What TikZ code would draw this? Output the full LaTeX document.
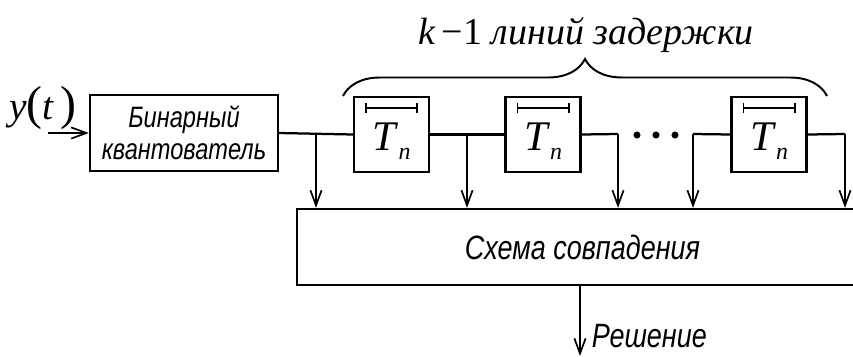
\documentclass[tikz,border=0pt]{standalone}
\usepackage{fontspec}
\setmainfont{Liberation Serif}
\newfontfamily\blockfont{Liberation Sans}
\usetikzlibrary{arrows.meta,positioning,calc,decorations.pathreplacing}
\newcommand{\narrowtext}[1]{\scalebox{0.8}[1]{#1}}

\begin{document}
\begin{tikzpicture}[
  x=0.025cm, y=-0.025cm,
  line width=1.6pt,
  block/.style={draw, line width=1.6pt, inner sep=0pt, align=center,
                font=\blockfont\itshape\fontsize{21}{23}\selectfont},
  delay/.style={draw, line width=1.6pt, minimum width=1.875cm, minimum height=1.875cm,
                inner sep=0pt},
  arrow/.style={-{Straight Barb[length=3.8mm, width=2.8mm, line width=1.2pt]}},
  dot/.style={circle, fill, inner sep=0pt, minimum size=5pt}
]
  \useasboundingbox (0,0) rectangle (853,356);

  % Nodes
  \node[block, minimum width=4.7cm, minimum height=1.9cm] (quant) at (184,133)
       {\narrowtext{Бинарный}\\\narrowtext{квантователь}};
  \node[delay] (T1) at (391.5,134.5) {};
  \node[delay] (T2) at (543,134.5) {};
  \node[delay] (T3) at (769,134.5) {};
  \node[block, minimum width=14.075cm, minimum height=1.9cm,
        font=\blockfont\itshape\fontsize{24}{26}\selectfont] (coinc) at (578.5,247)
       {\hspace*{0.2cm}\narrowtext{Схема совпадения}};

  % Labels
  \node (y) at (43,108) {\fontsize{28}{32}\selectfont\textit{y}{\fontsize{34}{36}\selectfont(}\textit{t}\,{\fontsize{34}{36}\selectfont)}};
  \node (title) at (586,35) {\fontsize{27}{30}\selectfont\textit{k}\,−1 \textit{линий задержки}};
  \foreach \t in {T1,T2,T3}{
    \node at ($(\t.center)+(0,7)$) {\fontsize{30}{34}\selectfont\textit{T}\raisebox{-0.45ex}{\fontsize{17}{20}\selectfont\textit{n}}};
    \draw[{Bar[width=2.4mm]}-{Bar[width=2.4mm]}, line width=1.3pt]
      ($(\t.center)+(-26.5,-26.5)$) -- ($(\t.center)+(26.5,-26.5)$);
  }
  \foreach \x in {637,656,675}{
    \node[dot] (d\x) at (\x,135) {};
  }

  % Branch points
  \coordinate (in) at (48,133);
  \coordinate (b1) at (316,134);
  \coordinate (b2) at (467,134);
  \coordinate (b3) at (618,134);
  \coordinate (b4) at (693,134);
  \coordinate (b5) at (845,134);
  \coordinate (out) at (580,356);

  % Connectors
  \draw[arrow] (in) -- (quant.west);
  \draw (quant.east) -- (T1.west);
  \draw (T1.east) -- (T2.west);
  \draw (T2.east) -- (b3);
  \draw (b4) -- (T3.west);
  \draw (T3.east) -- (b5);
  \foreach \b in {b1,b2,b3,b4,b5}{
    \draw[arrow] (\b) -- (\b |- coinc.north);
  }
  \draw[arrow] (out |- coinc.south) -- (out);
  \node[anchor=west, font=\blockfont\itshape\fontsize{24}{26}\selectfont] (dec)
       at (586,336) {\narrowtext{Решение}};

  % Brace
  \draw[decorate, decoration={brace, amplitude=0.925cm}, line width=1.4pt]
    (343,96) -- (827,96);
\end{tikzpicture}
\end{document}
